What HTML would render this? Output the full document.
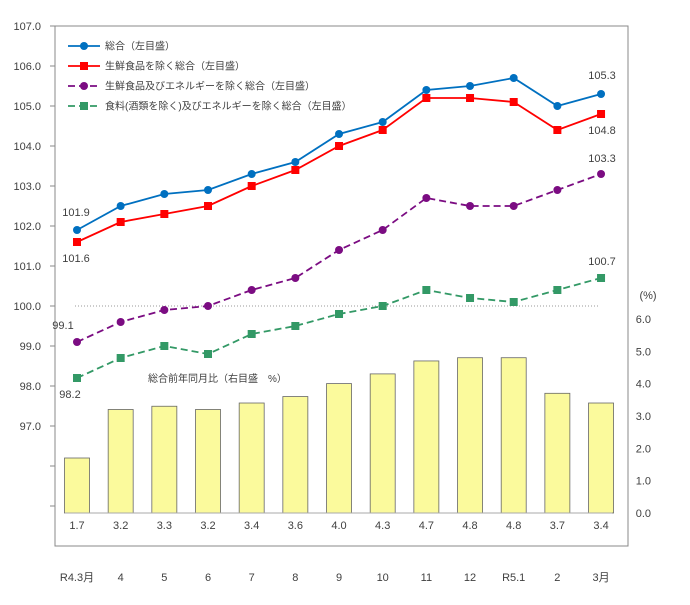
<!DOCTYPE html>
<html><head><meta charset="utf-8"><style>
body{margin:0;background:#fff}
text{font-family:"Liberation Sans","Noto Sans CJK JP",sans-serif;fill:#404040}
</style></head><body>
<svg id="c" width="690" height="600"></svg>
<script>
const categories=["R4.3月","4","5","6","7","8","9","10","11","12","R5.1","2","3月"];
const sougou=[101.9,102.5,102.8,102.9,103.3,103.6,104.3,104.6,105.4,105.5,105.7,105.0,105.3];
const exFresh=[101.6,102.1,102.3,102.5,103.0,103.4,104.0,104.4,105.2,105.2,105.1,104.4,104.8];
const exFreshEnergy=[99.1,99.6,99.9,100.0,100.4,100.7,101.4,101.9,102.7,102.5,102.5,102.9,103.3];
const exFoodEnergy=[98.2,98.7,99.0,98.8,99.3,99.5,99.8,100.0,100.4,100.2,100.1,100.4,100.7];
const yoy=[1.7,3.2,3.3,3.2,3.4,3.6,4.0,4.3,4.7,4.8,4.8,3.7,3.4];
const leftTicks=[107,106,105,104,103,102,101,100,99,98,97];
const rightTicks=[0,1,2,3,4,5,6];
const legendLabels=["総合（左目盛）","生鮮食品を除く総合（左目盛）","生鮮食品及びエネルギーを除く総合（左目盛）","食料(酒類を除く)及びエネルギーを除く総合（左目盛）"];

const svg=document.getElementById('c');const NS="http://www.w3.org/2000/svg";
function el(t,a,p){const e=document.createElementNS(NS,t);for(const k in a)e.setAttribute(k,a[k]);(p||svg).appendChild(e);return e;}
const xS=i=>77+i*43.67;
const yL=v=>26+(107-v)*40;
const yR=v=>513-v*32.35;

let e=el('rect',{x:55,y:26,width:573,height:520,fill:'none',stroke:'#888','stroke-width':1});

e=el('line',{x1:75,x2:600,y1:yL(100),y2:yL(100),stroke:'#999','stroke-dasharray':'1,2'});

leftTicks.forEach(v=>{
 const t=el('text',{x:41,y:yL(v)+4,'font-size':11,'text-anchor':'end'});t.textContent=v.toFixed(1);
 
 const l=el('line',{x1:50,x2:55,y1:yL(v),y2:yL(v),stroke:'#888'});
 
});
[96,95].forEach(v=>{const l=el('line',{x1:50,x2:55,y1:yL(v),y2:yL(v),stroke:'#888'});
 });
rightTicks.forEach(v=>{
 const t=el('text',{x:651,y:yR(v)+4,'font-size':11,'text-anchor':'end'});t.textContent=v.toFixed(1);
 
});
e=el('text',{x:648,y:299,'font-size':11,'text-anchor':'middle'});e.textContent='(%)';


yoy.forEach((v,i)=>{
 const b=el('rect',{x:xS(i)-12.5,y:yR(v),width:25,height:yR(0)-yR(v),fill:'#fbfa9c',stroke:'#666','stroke-width':0.8});
 
 const t=el('text',{x:xS(i),y:529,'font-size':11,'text-anchor':'middle'});t.textContent=v.toFixed(1);
 
 const c=el('text',{x:xS(i),y:581,'font-size':11,'text-anchor':'middle'});c.textContent=categories[i];
 
});
e=el('line',{x1:65,x2:612,y1:yR(0),y2:yR(0),stroke:'#aaa'});

e=el('text',{x:148,y:382,'font-size':10});e.textContent='総合前年同月比（右目盛　%）';


const series=[[sougou,'#0070c0','circle',false],[exFresh,'#ff0000','square',false],[exFreshEnergy,'#7b0c82','circle',true],[exFoodEnergy,'#339966','square',true]];
const names=['line-sougou','line-ex-fresh','line-ex-fresh-energy','line-ex-food-energy'];
function marker(x,y,col,shape){
 let m;
 if(shape==='circle')m=el('circle',{cx:x,cy:y,r:4,fill:col});
 else m=el('rect',{x:x-4,y:y-4,width:8,height:8,fill:col});
 return m;
}
series.forEach((s,k)=>{
 const pts=s[0].map((v,i)=>xS(i)+','+yL(v)).join(' ');
 const pl=el('polyline',{points:pts,fill:'none',stroke:s[1],'stroke-width':1.8,'stroke-dasharray':s[3]?'7,4':'none'});
 
 s[0].forEach((v,i)=>{const m=marker(xS(i),yL(v),s[1],s[2]);
  });
 const ly=46+k*20;
 const ll=el('line',{x1:68,x2:100,y1:ly,y2:ly,stroke:s[1],'stroke-width':1.8,'stroke-dasharray':s[3]?'7,4':'none'});
 
 const lm=marker(84,ly,s[1],s[2]);
 const lt=el('text',{x:105,y:ly+3.5,'font-size':10});lt.textContent=legendLabels[k];
 
});
const n=categories.length-1;
const labels=[[sougou[0],76,216],[exFresh[0],76,262],[exFreshEnergy[0],63,329],[exFoodEnergy[0],70,398],
 [sougou[n],602,79],[exFresh[n],602,134],[exFreshEnergy[n],602,162],[exFoodEnergy[n],602,265]];
labels.forEach(a=>{const t=el('text',{x:a[1],y:a[2],'font-size':11,'text-anchor':'middle'});t.textContent=a[0].toFixed(1);
 });
</script>
</body></html>
